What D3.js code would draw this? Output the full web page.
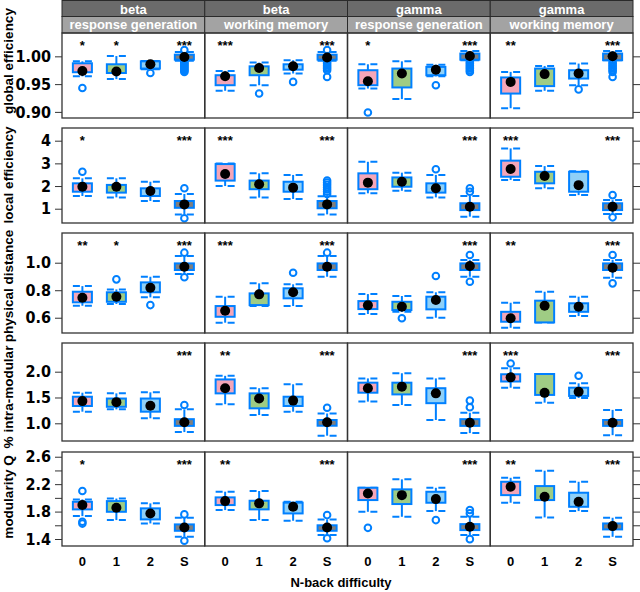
<!DOCTYPE html>
<html><head><meta charset="utf-8">
<script src="https://cdn.jsdelivr.net/npm/d3@7"></script>
<style>body{margin:0;background:#fff}svg{display:block}</style>
</head><body><svg id="c" width="640" height="592"></svg>
<script>
// ---------------- data ----------------
const categories = ["0", "1", "2", "S"];
const stripTop = ["beta", "beta", "gamma", "gamma"];
const stripSub = ["response generation", "working memory", "response generation", "working memory"];
const metrics = ["global efficiency", "local efficiency", "physical distance", "% intra-modular", "modularity Q"];
const xTitle = "N-back difficulty";

const yDomains = [[0.889, 1.042], [0.37, 4.56], [0.489, 1.216], [0.657, 2.556], [1.298, 2.669]];
const yTicks = [[0.90, 0.95, 1.00], [1, 2, 3, 4], [0.6, 0.8, 1.0], [1.0, 1.5, 2.0], [1.4, 1.6, 1.8, 2.0, 2.2, 2.4, 2.6]];
const yTickLabels = [["0.90", "0.95", "1.00"], ["1", "2", "3", "4"], ["0.6", "0.8", "1.0"], ["1.0", "1.5", "2.0"], ["1.4", "", "1.8", "", "2.2", "", "2.6"]];

// significance stars: [metric][column][category]
const stars = [
  [["*", "*", "", "***"], ["***", "", "", "***"], ["*", "", "", "***"], ["**", "", "", "***"]],
  [["*", "", "", "***"], ["***", "", "", "***"], ["", "", "", "***"], ["***", "", "", "***"]],
  [["**", "*", "", "***"], ["***", "", "", "***"], ["", "", "", "***"], ["**", "", "", "***"]],
  [["", "", "", "***"], ["**", "", "", "***"], ["", "", "", "***"], ["***", "", "", "***"]],
  [["*", "", "", "***"], ["**", "", "", "***"], ["", "", "", "***"], ["**", "", "", "***"]]
];

// box stats per column, per category: [whiskerLow, q1, median, q3, whiskerHigh, outliers]
const globalEfficiency = [
  [[0.964, 0.9714, 0.9737, 0.9875, 0.991, [0.943]],
   [0.959, 0.970, 0.9727, 0.9857, 1.0005, []],
   [0.9768, 0.978, 0.9857, 0.991, 0.9916, [0.970]],
   [0.992, 0.994, 0.9988, 1.003, 1.008, [1.0115, 0.990, 0.988, 0.986, 0.984, 0.982, 0.980, 0.978, 0.976, 0.974, 0.972]]],
  [[0.938, 0.948, 0.964, 0.966, 0.9737, []],
   [0.948, 0.966, 0.979, 0.982, 0.9887, [0.933]],
   [0.969, 0.976, 0.982, 0.9857, 0.993, [0.954]],
   [0.992, 0.994, 0.998, 1.003, 1.008, [1.0115, 0.990, 0.987, 0.984, 0.981, 0.978, 0.975, 0.963]]],
  [[0.942, 0.948, 0.955, 0.975, 0.9857, [0.899]],
   [0.923, 0.944, 0.969, 0.978, 0.991, []],
   [0.964, 0.966, 0.976, 0.981, 0.985, [0.948]],
   [0.993, 0.994, 1.0005, 1.005, 1.0095, [0.990, 0.987, 0.984, 0.981, 0.978, 0.975, 0.972]]],
  [[0.9066, 0.933, 0.954, 0.962, 0.972, []],
   [0.938, 0.9464, 0.968, 0.978, 0.9827, []],
   [0.948, 0.960, 0.969, 0.975, 0.987, [0.9405]],
   [0.993, 0.993, 1.0, 1.005, 1.0095, [0.990, 0.987, 0.984, 0.981, 0.978, 0.975, 0.972, 0.963]]]
];
const localEfficiency = [
  [[1.56, 1.75, 1.97, 2.12, 2.34, [2.63]],
   [1.50, 1.71, 1.97, 2.05, 2.34, []],
   [1.34, 1.56, 1.78, 1.90, 2.19, []],
   [0.75, 1.04, 1.19, 1.34, 1.65, [1.90, 0.58]]],
  [[2.00, 2.24, 2.53, 2.97, 2.99, []],
   [1.49, 1.86, 2.08, 2.24, 2.56, []],
   [1.43, 1.75, 1.93, 2.19, 2.49, []],
   [0.75, 1.02, 1.19, 1.34, 1.55, [1.65, 1.75, 1.85, 1.95, 2.05, 2.15, 2.24]]],
  [[1.68, 1.86, 2.15, 2.56, 3.07, []],
   [1.79, 1.97, 2.19, 2.38, 2.59, []],
   [1.50, 1.71, 1.90, 2.12, 2.49, [2.74]],
   [0.65, 0.94, 1.09, 1.24, 1.56, [1.75, 1.90]]],
  [[2.27, 2.41, 2.75, 3.12, 3.66, []],
   [1.90, 2.12, 2.44, 2.63, 2.88, []],
   [1.60, 1.75, 2.04, 2.63, 2.65, []],
   [0.77, 0.94, 1.09, 1.24, 1.38, [1.60, 0.62]]]
];
const physicalDistance = [
  [[0.687, 0.712, 0.745, 0.789, 0.83, []],
   [0.70, 0.716, 0.753, 0.785, 0.806, [0.879]],
   [0.748, 0.785, 0.818, 0.857, 0.898, [0.692]],
   [0.918, 0.947, 0.971, 0.995, 1.049, [1.073, 0.894]]],
  [[0.564, 0.607, 0.651, 0.685, 0.753, []],
   [0.685, 0.692, 0.77, 0.777, 0.85, []],
   [0.685, 0.741, 0.785, 0.814, 0.843, [0.927]],
   [0.898, 0.947, 0.971, 0.995, 1.049, [1.073]]],
  [[0.627, 0.663, 0.69, 0.721, 0.772, []],
   [0.643, 0.656, 0.68, 0.716, 0.758, [0.596]],
   [0.60, 0.661, 0.729, 0.753, 0.785, [0.903]],
   [0.898, 0.947, 0.976, 0.995, 1.02, [1.056, 0.862]]],
  [[0.527, 0.571, 0.596, 0.643, 0.709, []],
   [0.566, 0.566, 0.687, 0.724, 0.789, []],
   [0.612, 0.643, 0.68, 0.705, 0.753, []],
   [0.891, 0.947, 0.964, 0.995, 1.02, [1.056, 0.85]]]
];
const intraModular = [
  [[1.225, 1.335, 1.43, 1.515, 1.593, []],
   [1.27, 1.32, 1.41, 1.48, 1.58, []],
   [1.097, 1.225, 1.34, 1.48, 1.60, []],
   [0.83, 0.95, 1.02, 1.08, 1.27, [1.355]]],
  [[1.37, 1.58, 1.68, 1.85, 1.92, []],
   [1.16, 1.29, 1.48, 1.58, 1.68, []],
   [1.225, 1.335, 1.44, 1.515, 1.756, []],
   [0.76, 0.953, 1.02, 1.064, 1.19, [1.30]]],
  [[1.42, 1.593, 1.68, 1.787, 1.87, []],
   [1.355, 1.56, 1.71, 1.787, 1.97, []],
   [1.064, 1.39, 1.58, 1.68, 1.87, []],
   [0.81, 0.95, 1.01, 1.08, 1.205, [1.44, 1.31]]],
  [[1.69, 1.81, 1.89, 1.95, 2.066, [2.16]],
   [1.40, 1.55, 1.59, 1.955, 1.955, []],
   [1.49, 1.53, 1.61, 1.69, 1.775, [1.92]],
   [0.77, 0.95, 1.01, 1.064, 1.26, []]]
];
const modularityQ = [
  [[1.734, 1.832, 1.895, 1.943, 1.978, [2.10, 1.651, 1.625]],
   [1.676, 1.797, 1.856, 1.953, 1.99, []],
   [1.627, 1.686, 1.773, 1.847, 1.92, []],
   [1.432, 1.52, 1.569, 1.613, 1.71, [1.759, 1.374]]],
  [[1.822, 1.895, 1.953, 2.007, 2.09, []],
   [1.676, 1.832, 1.92, 1.958, 2.10, []],
   [1.666, 1.773, 1.87, 1.93, 1.943, []],
   [1.457, 1.52, 1.569, 1.60, 1.686, [1.749, 1.41]]],
  [[1.797, 1.968, 2.065, 2.147, 2.147, [1.563]],
   [1.724, 1.91, 2.04, 2.124, 2.27, []],
   [1.807, 1.929, 1.982, 2.089, 2.147, [1.676]],
   [1.457, 1.53, 1.578, 1.617, 1.724, [1.822, 1.774, 1.398]]],
  [[1.929, 2.04, 2.162, 2.235, 2.293, []],
   [1.715, 1.968, 2.016, 2.172, 2.396, []],
   [1.807, 1.87, 1.943, 2.075, 2.235, []],
   [1.432, 1.54, 1.588, 1.627, 1.71, []]]
];
const allMetrics = [globalEfficiency, localEfficiency, physicalDistance, intraModular, modularityQ];

// ---------------- style / layout ----------------
const fills = ["#f4a6b8", "#9fcc84", "#8fd0f7", "#7f7f7f"];
const blue = "#0080ff";
const narrow = "'Liberation Sans Narrow','Arial Narrow','DejaVu Sans Condensed',sans-serif";
const sans = "'Liberation Sans',Arial,Helvetica,sans-serif";
const X0 = 62, X1 = 633, nCol = 4;
const colW = (X1 - X0) / nCol;
const rowsPx = [[33, 118], [128, 223], [233, 333], [343, 441], [452, 546]];
const yTitlePos = [61, 175, 286, 397, 497];

const svg = d3.select("#c");

// strips
stripTop.forEach((t, c) => {
  const x = X0 + c * colW;
  svg.append("rect").attr("x", x).attr("y", 0.5).attr("width", colW).attr("height", 16)
    .attr("fill", "#6b6b6b").attr("stroke", "#2a2a2a").attr("stroke-width", 1);
  svg.append("rect").attr("x", x).attr("y", 16.5).attr("width", colW).attr("height", 16.5)
    .attr("fill", "#a3a3a3").attr("stroke", "#2a2a2a").attr("stroke-width", 1);
  svg.append("text").attr("x", x + colW / 2).attr("y", 13.5).attr("text-anchor", "middle")
    .attr("fill", "#fff").attr("font-family", sans).attr("font-weight", "bold").attr("font-size", 13).text(t);
  svg.append("text").attr("x", x + colW / 2).attr("y", 29).attr("text-anchor", "middle")
    .attr("fill", "#fff").attr("font-family", sans).attr("font-weight", "bold").attr("font-size", 13).text(stripSub[c]);
});

allMetrics.forEach((metric, r) => {
  const [top, bot] = rowsPx[r];
  const y = d3.scaleLinear().domain(yDomains[r]).range([bot, top]);

  // left axis
  const left = svg.append("g").attr("transform", `translate(${X0},0)`)
    .call(d3.axisLeft(y).tickValues(yTicks[r]).tickSize(7).tickPadding(4)
      .tickFormat((d, i) => yTickLabels[r][i]));
  left.select(".domain").remove();
  left.selectAll("line").attr("stroke", "#333").attr("stroke-width", 1);
  left.selectAll("text").attr("font-family", narrow).attr("font-weight", "bold")
    .attr("font-size", 16).attr("fill", "#000");
  // right axis (ticks only)
  const right = svg.append("g").attr("transform", `translate(${X1},0)`)
    .call(d3.axisRight(y).tickValues(yTicks[r]).tickSize(7).tickFormat(""));
  right.select(".domain").remove();
  right.selectAll("line").attr("stroke", "#333").attr("stroke-width", 1);

  // y title
  svg.append("text").attr("transform", `translate(13,${yTitlePos[r]}) rotate(-90)`)
    .attr("text-anchor", "middle").attr("font-family", sans).attr("font-weight", "bold")
    .attr("font-size", 13.5).text(metrics[r]);

  metric.forEach((col, c) => {
    const px0 = X0 + c * colW, px1 = px0 + colW;
    const x = d3.scalePoint().domain(categories).range([px0, px1]).padding(0.6);
    const bw = x.step() * 0.56;
    const g = svg.append("g");
    col.forEach((s, k) => {
      const [lo, q1, med, q3, hi, out] = s;
      const cx = x(categories[k]);
      // whiskers
      g.append("line").attr("x1", cx).attr("x2", cx).attr("y1", y(q3)).attr("y2", y(hi))
        .attr("stroke", blue).attr("stroke-width", 2);
      g.append("line").attr("x1", cx).attr("x2", cx).attr("y1", y(q1)).attr("y2", y(lo))
        .attr("stroke", blue).attr("stroke-width", 2);
      [lo, hi].forEach(v => {
        g.append("line").attr("x1", cx - bw / 2).attr("x2", cx + bw / 2).attr("y1", y(v)).attr("y2", y(v))
          .attr("stroke", blue).attr("stroke-width", 2).attr("stroke-dasharray", "7,5");
      });
      // box
      g.append("rect").attr("x", cx - bw / 2).attr("width", bw)
        .attr("y", y(q3)).attr("height", Math.max(1, y(q1) - y(q3)))
        .attr("fill", fills[k]).attr("stroke", blue).attr("stroke-width", 2);
      // outliers
      out.forEach(v => {
        g.append("circle").attr("cx", cx).attr("cy", y(v)).attr("r", 3.3)
          .attr("fill", "none").attr("stroke", blue).attr("stroke-width", 2);
      });
      // median dot
      g.append("circle").attr("cx", cx).attr("cy", y(med)).attr("r", 5).attr("fill", "#000");
      // star
      if (stars[r][c][k]) {
        g.append("text").attr("x", cx).attr("y", top + 16.5).attr("text-anchor", "middle")
          .attr("font-family", sans).attr("font-weight", "bold").attr("font-size", 13)
          .text(stars[r][c][k]);
      }
    });
    svg.append("rect").attr("x", px0).attr("y", top).attr("width", px1 - px0).attr("height", bot - top)
      .attr("fill", "none").attr("stroke", "#333").attr("stroke-width", 1.3);

    // x labels on bottom row
    if (r === allMetrics.length - 1) {
      categories.forEach(cat => {
        svg.append("text").attr("x", x(cat)).attr("y", 566).attr("text-anchor", "middle")
          .attr("font-family", sans).attr("font-weight", "bold").attr("font-size", 13).text(cat);
      });
    }
  });
});

svg.append("text").attr("x", 341).attr("y", 587).attr("text-anchor", "middle")
  .attr("font-family", sans).attr("font-weight", "bold").attr("font-size", 13).text(xTitle);
</script></body></html>
